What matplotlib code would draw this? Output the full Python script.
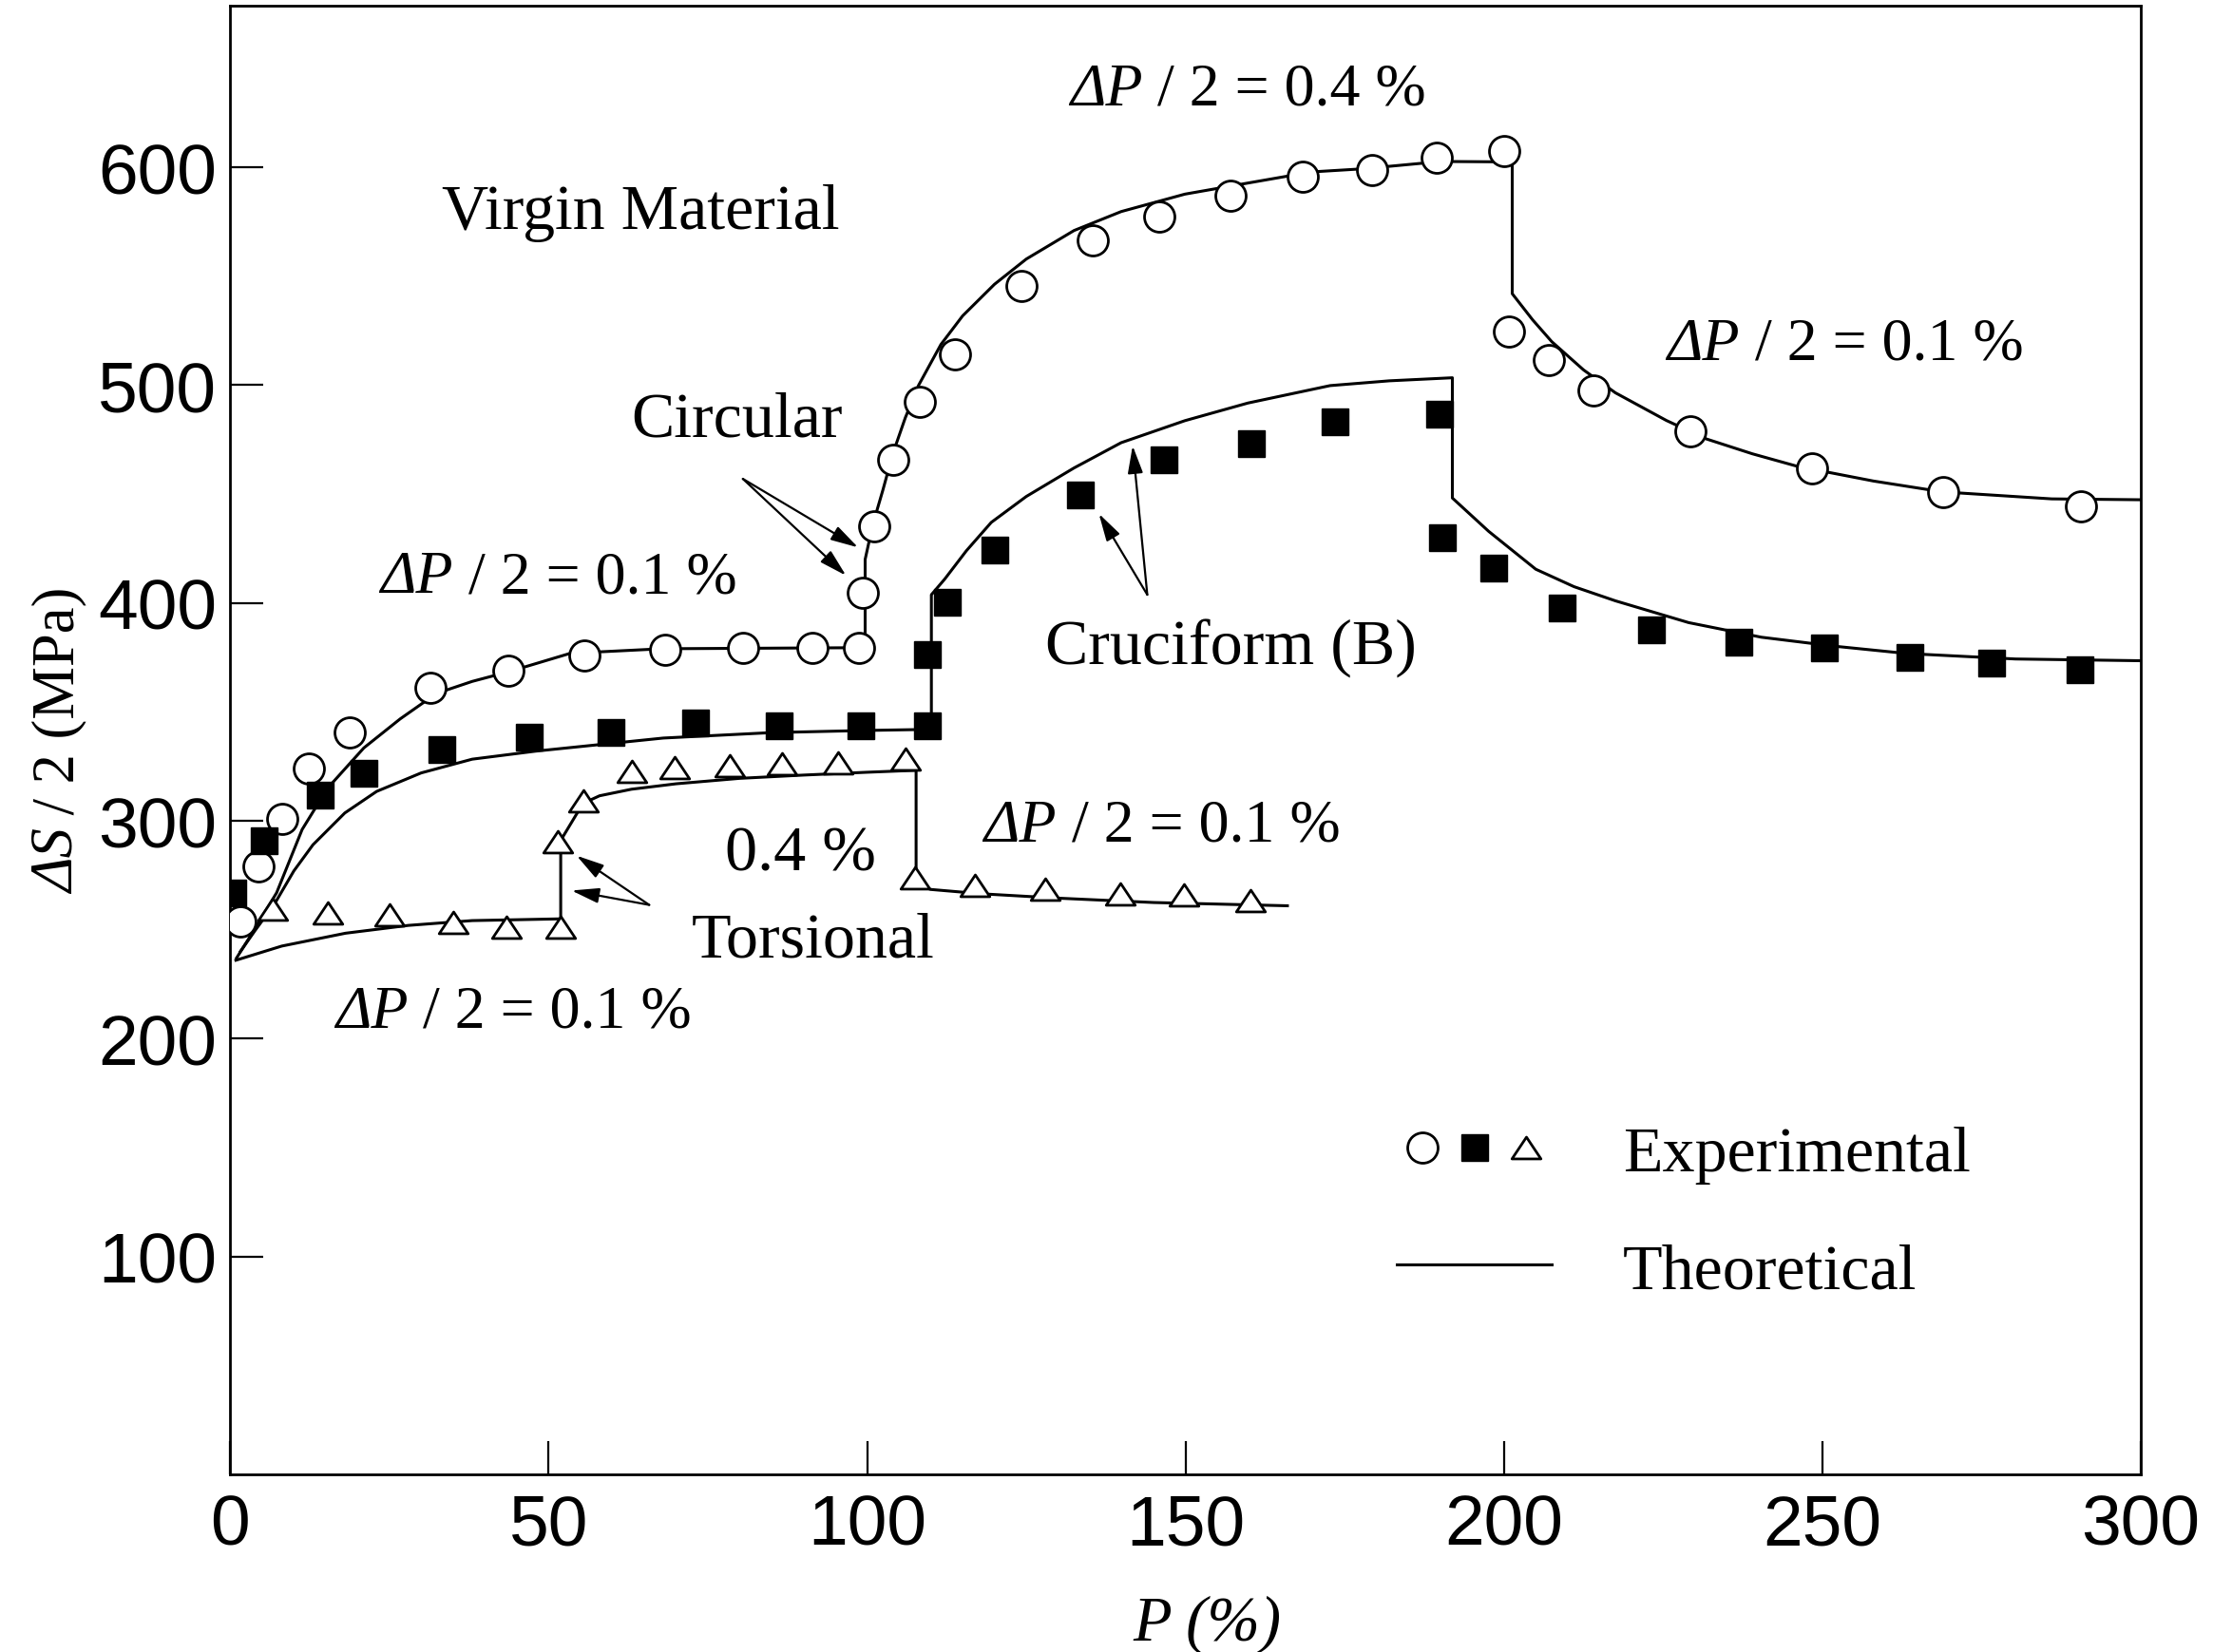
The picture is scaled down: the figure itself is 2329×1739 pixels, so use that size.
import matplotlib
matplotlib.use("Agg")
import matplotlib.pyplot as plt
from matplotlib.path import Path
from matplotlib.legend_handler import HandlerTuple

plt.rcParams['font.family'] = 'Liberation Serif'

# ---------------- data ----------------
# experimental points, P (%) vs dS/2 (MPa)
circ_P = [1.6, 4.4, 8.1, 12.3, 18.7, 31.4, 43.7, 55.6, 68.3, 80.5, 91.4, 98.7,
          99.4, 101.1, 104.1, 108.3, 113.8, 124.3, 135.4, 145.9, 157.1, 168.4,
          179.3, 189.4, 200.1, 200.8, 207.1, 214.0, 229.3, 248.3, 268.9, 290.6]
circ_S = [254, 278.9, 300.7, 324, 340.6, 361, 369, 376, 378.4, 379.2, 379.2, 379.2,
          404.6, 435.4, 465.6, 492.5, 514.3, 545.6, 566.6, 577.5, 587, 595.7,
          598.9, 604.4, 607.3, 524.5, 511.4, 497.6, 478.7, 461.9, 451, 444.4]

cruc_P = [0.4, 5.4, 14.1, 21.0, 33.3, 46.9, 59.8, 73.0, 86.2, 99.1, 109.5,
          109.5, 112.6, 120.0, 133.5, 146.6, 160.4, 173.5, 189.9, 190.4, 198.4,
          209.2, 223.2, 236.9, 250.3, 263.7, 276.6, 290.4]
cruc_S = [267, 291, 311.6, 321.7, 332.6, 338.4, 340.6, 345, 343.5, 343.5, 343.5,
          376.2, 400.2, 424.5, 449.6, 465.6, 473.2, 483.1, 486.7, 430, 416.2,
          397.7, 387.7, 381.8, 379.3, 375.2, 372.6, 369.3]

tors_P = [6.7, 15.4, 25.0, 35.0, 43.4, 51.9, 51.4, 55.4, 63.1, 69.8, 78.5, 86.7,
          95.4, 106.1, 107.6, 116.9, 128.0, 139.7, 149.7, 160.2]
tors_S = [259.3, 257.8, 257, 253.4, 251.2, 251.2, 290.5, 309.4, 322.5, 324.4,
          325.4, 326, 326.8, 328.3, 273.8, 270.2, 268.7, 266.5, 265.8, 263.6]

# theoretical curves
circ_th_P = [1, 3.8, 7.3, 11.3, 15.3, 21, 26.7, 32.4, 38, 43.8, 53.4, 67.8, 80.5,
             99.7, 99.7, 100.9, 102.5, 104.1, 106, 108.1, 111.6, 115, 120, 125,
             132.5, 139.9, 149.9, 159.8, 169.8, 177.7, 190.1, 201.3, 201.3, 204.5,
             207.5, 212.5, 217.5, 225.5, 231.8, 239, 246, 258, 268.9, 286, 300]
circ_th_S = [237, 250, 267, 296, 315, 333.5, 346.8, 358.5, 364, 368.5, 376.9, 379,
             379.2, 379.5, 420, 436, 452, 469, 485, 500, 518.7, 531.8, 546.3, 557.9,
             571, 579.7, 587.7, 592.8, 597.9, 599.3, 602.7, 602.5, 542, 530,
             520, 507, 496.5, 483.8, 475.3, 468.5, 462.8, 456, 451, 447.8, 447.4]

cruc_th_P = [1.6, 4, 7, 10, 13, 18, 23, 30, 38, 48, 58, 68, 85, 100, 110.1,
             110.1, 112.2, 115.6, 119.5, 125, 132.5, 139.9, 149.9, 159.8, 172.7,
             182, 191.9, 191.9, 197.6, 205, 211, 217.5, 229, 240.4, 251.8, 263.3,
             280.3, 300]
cruc_th_S = [240, 250, 262, 277, 289, 303.6, 313.5, 322, 328.3, 332, 335, 338,
             340.5, 341.5, 342, 403.8, 411, 424, 437, 448.9, 462, 473.6, 483.7,
             491.8, 499.8, 502, 503.4, 448.2, 432.9, 415.5, 407.5, 401, 391, 384.3,
             380.2, 376.8, 374.3, 373.5]

tors_th_P = [0.9, 8.1, 18.1, 28, 38, 51.9, 51.9, 55.4, 58, 63, 70, 80, 90, 100,
             107.7, 107.7, 110, 118, 130, 145, 166]
tors_th_S = [236, 242.5, 248.4, 252, 254.2, 255, 291, 308, 311.5, 314.5, 317,
             319.5, 321, 322.3, 323.2, 271, 268.5, 266.5, 264.5, 262.5, 261]

x_ticks = [0, 50, 100, 150, 200, 250, 300]
y_ticks = [100, 200, 300, 400, 500, 600]

# ---------------- figure ----------------
fig = plt.figure(figsize=(23.29, 17.40), dpi=100)
ax = fig.add_axes([0.104, 0.1075, 0.8634, 0.8882])

FS = 49      # plain labels
FS_DP = 46   # "dP/2 = ..." labels
lw_th = 2.2

ax.plot(circ_th_P, circ_th_S, color="black", lw=lw_th)
ax.plot(cruc_th_P, cruc_th_S, color="black", lw=lw_th)
th_line, = ax.plot(tors_th_P, tors_th_S, color="black", lw=lw_th)

# flattened open triangle like the original
tri = Path([(0, 0.75), (-1, -0.75), (1, -0.75), (0, 0.75)], closed=True)
c_pts, = ax.plot(circ_P, circ_S, ls="none", marker="o", ms=23, mfc="white",
                 mec="black", mew=2.0, zorder=3)
s_pts, = ax.plot(cruc_P, cruc_S, ls="none", marker="s", ms=20, mfc="black",
                 mec="black", mew=1.0, zorder=3)
t_pts, = ax.plot(tors_P, tors_S, ls="none", marker=tri, ms=22, mfc="white",
                 mec="black", mew=2.0, zorder=3)

ax.set_xlim(0, 300)
ax.set_ylim(0, 674)
ax.set_xticks(x_ticks)
ax.set_yticks(y_ticks)
ax.tick_params(direction="in", length=25, width=1.6, labelsize=54, pad=14)
ax.tick_params(axis="y", pad=10)
for lab in ax.get_xticklabels() + ax.get_yticklabels():
    lab.set_family("Liberation Sans")
for sp in ax.spines.values():
    sp.set_linewidth(2.0)


def two_part(x, y, first, second, size=FS_DP):
    """italic symbol part followed by upright part, on one baseline"""
    t1 = ax.text(x, y, first, fontsize=size, fontstyle="italic",
                 ha="left", va="baseline")
    ax.annotate(second, xy=(1, 0), xycoords=t1, ha="left", va="bottom",
                fontsize=size)
    return t1


two_part(131.8, 629, "ΔP", " / 2 = 0.4 %")
two_part(225.6, 512, "ΔP", " / 2 = 0.1 %")
two_part(23.6, 405, "ΔP", " / 2 = 0.1 %")
two_part(118.3, 291, "ΔP", " / 2 = 0.1 %")
two_part(16.5, 205.5, "ΔP", " / 2 = 0.1 %")

ax.text(33.2, 572, "Virgin Material", fontsize=FS, ha="left", va="baseline")
ax.text(62.9, 477, "Circular", fontsize=FS, ha="left", va="baseline")
ax.text(128, 372.3, "Cruciform (B)", fontsize=FS, ha="left", va="baseline")
ax.text(77.7, 277.4, "0.4 %", fontsize=FS, ha="left", va="baseline")
ax.text(72.5, 238, "Torsional", fontsize=FS, ha="left", va="baseline")

# pointer arrows
arrow_kw = dict(arrowstyle="-|>,head_length=0.8,head_width=0.22", color="black",
                lw=1.6, shrinkA=0, shrinkB=0, mutation_scale=22)
for tip, tail in [((98.6, 425.5), (80.5, 457)), ((96.7, 412.6), (80.5, 457)),
                  ((136.4, 441), (144, 403.8)), ((141.7, 472.2), (144, 403.8)),
                  ((54.4, 284), (65.8, 261.4)), ((53.6, 268), (65.8, 261.4))]:
    ax.annotate("", xy=tip, xytext=tail, arrowprops=arrow_kw)

# axis labels
t_y = ax.text(-22.5, 266.8, "ΔS", fontsize=45, fontstyle="italic", rotation=90,
              ha="right", va="bottom", clip_on=False)
ax.annotate(" / 2 (MPa)", xy=(1, 1), xycoords=t_y, rotation=90, ha="right",
            va="bottom", fontsize=45)
ax.text(153.4, -68.5, "P (%)", fontsize=48, fontstyle="italic", ha="center",
        va="center", clip_on=False)

ax.legend([(c_pts, s_pts, t_pts), th_line], ["Experimental", "Theoretical"],
          handler_map={tuple: HandlerTuple(ndivide=None, pad=0.0)},
          loc="center left", bbox_to_anchor=(0.6106, 0.178), frameon=False,
          fontsize=FS, handlelength=2.4, handletextpad=1.1, labelspacing=0.9,
          borderpad=0, borderaxespad=0, numpoints=1)

fig.savefig("out.png", dpi=100)
